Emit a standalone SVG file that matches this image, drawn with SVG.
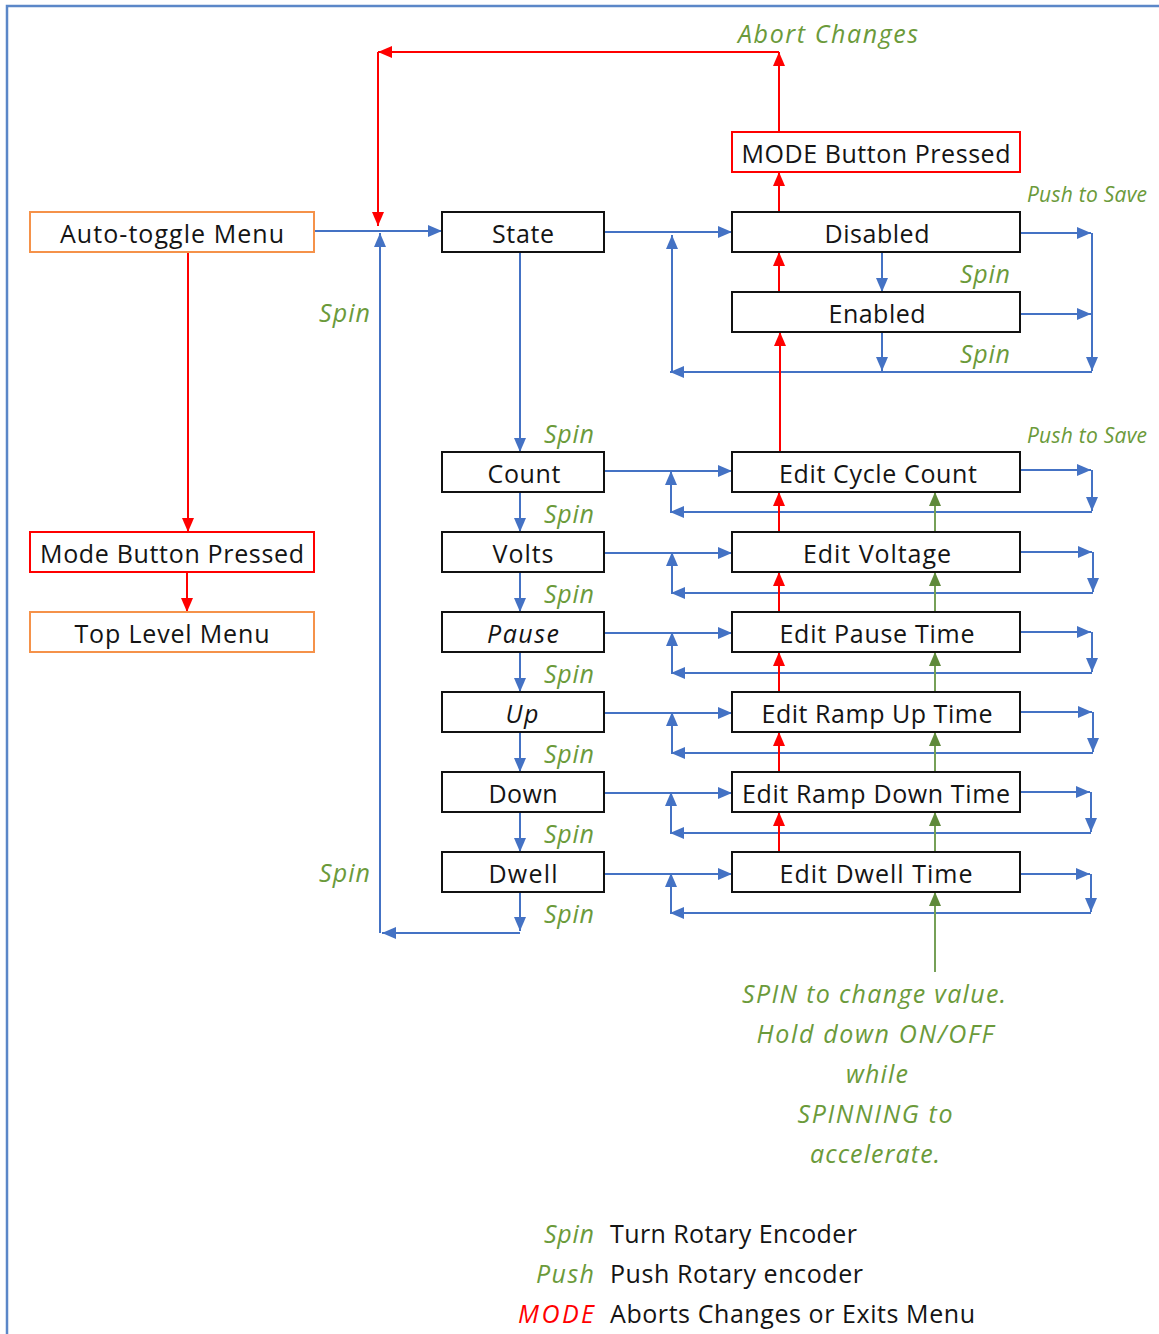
<svg xmlns="http://www.w3.org/2000/svg" width="1159" height="1334" viewBox="0 0 1159 1334">
  <defs>
    <marker id="ab" viewBox="0 0 14 12" refX="14" refY="6" markerWidth="14" markerHeight="12" markerUnits="userSpaceOnUse" orient="auto">
      <path d="M0,0 L14,6 L0,12 z" fill="#4472c4"/>
    </marker>
    <marker id="ar" viewBox="0 0 14 12" refX="14" refY="6" markerWidth="14" markerHeight="12" markerUnits="userSpaceOnUse" orient="auto">
      <path d="M0,0 L14,6 L0,12 z" fill="#ff0000"/>
    </marker>
    <marker id="ag" viewBox="0 0 14 12" refX="14" refY="6" markerWidth="14" markerHeight="12" markerUnits="userSpaceOnUse" orient="auto">
      <path d="M0,0 L14,6 L0,12 z" fill="#5f8a3a"/>
    </marker>
  </defs>
  <style>
    .box { fill: #ffffff; stroke: #111111; stroke-width: 2; }
    .box.red { stroke: #ff0000; }
    .box.orange { stroke: #f5924a; }
    text { font-family: "Open Sans", "Liberation Sans", sans-serif; }
    .lbl { font-size: 25px; fill: #141414; text-anchor: middle; }
    .it { font-style: italic; }
    .note { font-style: italic; font-size: 25px; fill: #6b9a3a; }
    .small { font-size: 21px; }
    .mid { text-anchor: middle; }
    .end { text-anchor: end; }
    .key { font-size: 25px; fill: #141414; }
    .mode { font-style: italic; font-size: 25px; fill: #ff0000; }
    .cb { stroke: #4472c4; stroke-width: 2; fill: none; marker-end: url(#ab); }
    .cr { stroke: #ff0000; stroke-width: 2; fill: none; marker-end: url(#ar); }
    .cg { stroke: #76a057; stroke-width: 2; fill: none; marker-end: url(#ag); }
    .frame { stroke: #5b87c8; stroke-width: 2.5; fill: none; }
  </style>

  <rect width="1159" height="1334" fill="#ffffff"/>
  <!-- page frame -->
  <path class="frame" d="M7,1334 V6 H1159"/>

  <!-- connectors -->
  <g id="connectors">
    <!-- blue: menu navigation -->
    <path class="cb" d="M314,231 H442"/>
    <path class="cb" d="M520,892 V931"/>
    <path class="cb" d="M520,933 H382"/>
    <path class="cb" d="M380,933 V233"/>
    <path class="cb" d="M604,232 H732"/>
    <path class="cb" d="M520,252 V452"/>
    <path class="cb" d="M520,492 V532"/>
    <path class="cb" d="M520,572 V612"/>
    <path class="cb" d="M520,652 V692"/>
    <path class="cb" d="M520,732 V772"/>
    <path class="cb" d="M520,812 V852"/>

    <!-- State options loop -->
    <path class="cb" d="M672,372 V235"/>
    <path class="cb" d="M1092,372 H670"/>
    <path class="cb" d="M1020,233 H1091"/>
    <path class="cb" d="M1092,233 V371"/>
    <path class="cb" d="M1020,314 H1091"/>
    <path class="cb" d="M882,252 V292"/>
    <path class="cb" d="M882,332 V371"/>

    <!-- edit rows -->
    <path class="cb" d="M604,471 H732"/>
    <path class="cb" d="M671,512 V471"/>
    <path class="cb" d="M1092,512 H670"/>
    <path class="cb" d="M1020,470 H1091"/>
    <path class="cb" d="M1092,470 V511"/>

    <path class="cb" d="M604,553 H732"/>
    <path class="cb" d="M672,593 V552"/>
    <path class="cb" d="M1093,593 H671"/>
    <path class="cb" d="M1020,552 H1092"/>
    <path class="cb" d="M1093,552 V592"/>

    <path class="cb" d="M604,633 H732"/>
    <path class="cb" d="M672,673 V632"/>
    <path class="cb" d="M1092,673 H671"/>
    <path class="cb" d="M1020,632 H1091"/>
    <path class="cb" d="M1092,632 V672"/>

    <path class="cb" d="M604,713 H732"/>
    <path class="cb" d="M672,753 V712"/>
    <path class="cb" d="M1093,753 H671"/>
    <path class="cb" d="M1020,712 H1092"/>
    <path class="cb" d="M1093,712 V752"/>

    <path class="cb" d="M604,793 H732"/>
    <path class="cb" d="M671,833 V792"/>
    <path class="cb" d="M1091,833 H670"/>
    <path class="cb" d="M1020,792 H1090"/>
    <path class="cb" d="M1091,792 V832"/>

    <path class="cb" d="M604,874 H732"/>
    <path class="cb" d="M671,913 V873"/>
    <path class="cb" d="M1091,913 H670"/>
    <path class="cb" d="M1020,874 H1090"/>
    <path class="cb" d="M1091,874 V912"/>

    <!-- red: MODE button -->
    <path class="cr" d="M779,212 V172"/>
    <path class="cr" d="M779,132 V52"/>
    <path class="cr" d="M779,52 H378"/>
    <path class="cr" d="M378,52 V226"/>
    <path class="cr" d="M779,292 V252"/>
    <path class="cr" d="M780,452 V332"/>
    <path class="cr" d="M779,532 V492"/>
    <path class="cr" d="M779,612 V572"/>
    <path class="cr" d="M779,692 V652"/>
    <path class="cr" d="M779,772 V732"/>
    <path class="cr" d="M779,852 V812"/>
    <path class="cr" d="M188,252 V532"/>
    <path class="cr" d="M187,572 V612"/>

    <!-- green: push to save -->
    <path class="cg" d="M935,972 V892"/>
    <path class="cg" d="M935,852 V812"/>
    <path class="cg" d="M935,772 V732"/>
    <path class="cg" d="M935,692 V652"/>
    <path class="cg" d="M935,612 V572"/>
    <path class="cg" d="M935,532 V492"/>
  </g>

  <!-- nodes -->
  <g id="auto-toggle-menu">
    <rect class="box orange" x="30" y="212" width="284" height="40"/>
    <text class="lbl" x="172" y="243" textLength="224">Auto-toggle Menu</text>
  </g>
  <g id="mode-button-left">
    <rect class="box red" x="30" y="532" width="284" height="40"/>
    <text class="lbl" x="172" y="563" textLength="264">Mode Button Pressed</text>
  </g>
  <g id="top-level-menu">
    <rect class="box orange" x="30" y="612" width="284" height="40"/>
    <text class="lbl" x="172" y="643" textLength="195">Top Level Menu</text>
  </g>

  <g id="state">
    <rect class="box" x="442" y="212" width="162" height="40"/>
    <text class="lbl" x="523" y="243" textLength="62">State</text>
  </g>
  <g id="count">
    <rect class="box" x="442" y="452" width="162" height="40"/>
    <text class="lbl" x="524" y="483" textLength="73">Count</text>
  </g>
  <g id="volts">
    <rect class="box" x="442" y="532" width="162" height="40"/>
    <text class="lbl" x="523" y="563" textLength="61">Volts</text>
  </g>
  <g id="pause">
    <rect class="box" x="442" y="612" width="162" height="40"/>
    <text class="lbl it" x="523" y="643" textLength="72">Pause</text>
  </g>
  <g id="up">
    <rect class="box" x="442" y="692" width="162" height="40"/>
    <text class="lbl it" x="522" y="723" textLength="33">Up</text>
  </g>
  <g id="down">
    <rect class="box" x="442" y="772" width="162" height="40"/>
    <text class="lbl" x="523" y="803" textLength="69">Down</text>
  </g>
  <g id="dwell">
    <rect class="box" x="442" y="852" width="162" height="40"/>
    <text class="lbl" x="523" y="883" textLength="69">Dwell</text>
  </g>

  <g id="mode-button-top">
    <rect class="box red" x="732" y="132" width="288" height="40"/>
    <text class="lbl" x="876" y="163" textLength="269">MODE Button Pressed</text>
  </g>
  <g id="disabled">
    <rect class="box" x="732" y="212" width="288" height="40"/>
    <text class="lbl" x="877" y="243" textLength="105">Disabled</text>
  </g>
  <g id="enabled">
    <rect class="box" x="732" y="292" width="288" height="40"/>
    <text class="lbl" x="877" y="323" textLength="97">Enabled</text>
  </g>
  <g id="edit-cycle-count">
    <rect class="box" x="732" y="452" width="288" height="40"/>
    <text class="lbl" x="878" y="483" textLength="198">Edit Cycle Count</text>
  </g>
  <g id="edit-voltage">
    <rect class="box" x="732" y="532" width="288" height="40"/>
    <text class="lbl" x="877" y="563" textLength="148">Edit Voltage</text>
  </g>
  <g id="edit-pause-time">
    <rect class="box" x="732" y="612" width="288" height="40"/>
    <text class="lbl" x="877" y="643" textLength="195">Edit Pause Time</text>
  </g>
  <g id="edit-ramp-up-time">
    <rect class="box" x="732" y="692" width="288" height="40"/>
    <text class="lbl" x="877" y="723" textLength="231">Edit Ramp Up Time</text>
  </g>
  <g id="edit-ramp-down-time">
    <rect class="box" x="732" y="772" width="288" height="40"/>
    <text class="lbl" x="876" y="803" textLength="268">Edit Ramp Down Time</text>
  </g>
  <g id="edit-dwell-time">
    <rect class="box" x="732" y="852" width="288" height="40"/>
    <text class="lbl" x="876" y="883" textLength="193">Edit Dwell Time</text>
  </g>

  <!-- connector labels -->
  <g id="labels">
    <text class="note" x="738" y="43" textLength="180">Abort Changes</text>
    <text class="note small" x="1027" y="202" textLength="120">Push to Save</text>
    <text class="note small" x="1027" y="443" textLength="120">Push to Save</text>
    <text class="note" x="960" y="283" textLength="50">Spin</text>
    <text class="note" x="960" y="363" textLength="50">Spin</text>
    <text class="note" x="319" y="322" textLength="51">Spin</text>
    <text class="note" x="319" y="882" textLength="51">Spin</text>
    <text class="note" x="544" y="443" textLength="50">Spin</text>
    <text class="note" x="544" y="523" textLength="50">Spin</text>
    <text class="note" x="544" y="603" textLength="50">Spin</text>
    <text class="note" x="544" y="683" textLength="50">Spin</text>
    <text class="note" x="544" y="763" textLength="50">Spin</text>
    <text class="note" x="544" y="843" textLength="50">Spin</text>
    <text class="note" x="544" y="923" textLength="50">Spin</text>

    <text class="note mid" x="874" y="1003" textLength="264">SPIN to change value.</text>
    <text class="note mid" x="875" y="1043" textLength="237">Hold down ON/OFF</text>
    <text class="note mid" x="877" y="1083" textLength="62">while</text>
    <text class="note mid" x="875" y="1123" textLength="155">SPINNING to</text>
    <text class="note mid" x="875" y="1163" textLength="130">accelerate.</text>
  </g>

  <!-- key -->
  <g id="legend">
    <text class="note end" x="594" y="1243" textLength="50">Spin</text>
    <text class="key" x="610" y="1243" textLength="247">Turn Rotary Encoder</text>
    <text class="note end" x="594" y="1283" textLength="58">Push</text>
    <text class="key" x="610" y="1283" textLength="253">Push Rotary encoder</text>
    <text class="mode end" x="594" y="1323" textLength="76">MODE</text>
    <text class="key" x="610" y="1323" textLength="365">Aborts Changes or Exits Menu</text>
  </g>
</svg>
